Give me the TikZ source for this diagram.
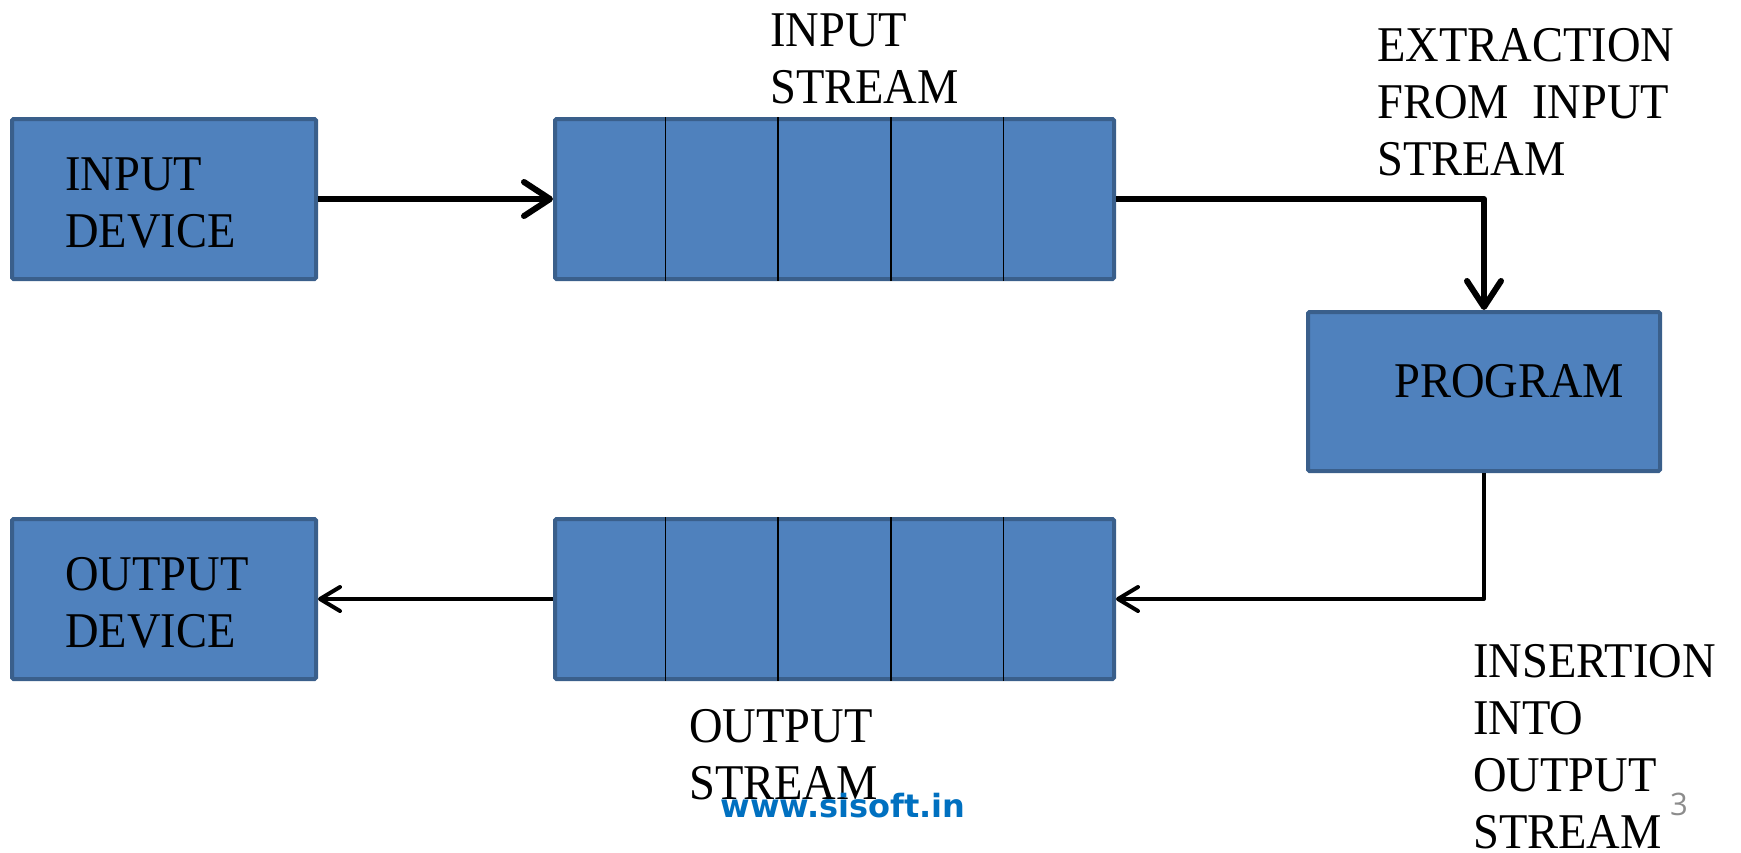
\documentclass[tikz,border=0pt]{standalone}
\usepackage{fontspec}
\setmainfont{Liberation Serif}[FakeStretch=0.93]
\newfontfamily\webfont{DejaVu Sans}
\newfontfamily\numfont{Open Sans}
\usetikzlibrary{arrows.meta,calc}
\definecolor{boxfill}{HTML}{4F81BD}
\definecolor{boxline}{HTML}{3A5F8B}
\definecolor{weblue}{HTML}{0070C0}
\definecolor{numgray}{HTML}{8C8C8C}
\begin{document}
\begin{tikzpicture}[x=1pt,y=-1pt,
  blockbox/.style={draw=boxline,fill=boxfill,line width=4pt,rounded corners=1.5pt,inner sep=0pt},
  cellline/.style={black,line width=1.6pt},
  lbl/.style={font=\fontsize{50}{57}\selectfont,align=left,inner sep=0pt,anchor=base west},
  thickarrow/.style={line width=6pt,-{Straight Barb[length=26pt,width=34pt,line cap=round,line join=round]}},
  thinarrow/.style={line width=4pt,-{Straight Barb[length=20pt,width=24pt,line cap=round,line join=round]}}]
\useasboundingbox (0,0) rectangle (1741,852);
% boxes
\node[blockbox,minimum width=304pt,minimum height=160pt] (indev) at (164,199) {};
\node[blockbox,minimum width=559pt,minimum height=160pt] (instream) at (834.5,199) {};
\node[blockbox,minimum width=352pt,minimum height=159pt] (program) at (1484,391.5) {};
\node[blockbox,minimum width=559pt,minimum height=160pt] (outstream) at (834.5,599) {};
\node[blockbox,minimum width=304pt,minimum height=160pt] (outdev) at (164,599) {};
% cell dividers
\foreach \f in {0.2,0.4,0.6,0.8}{
  \draw[cellline] ($(instream.north west)!\f!(instream.north east)$) -- ($(instream.south west)!\f!(instream.south east)$);
  \draw[cellline] ($(outstream.north west)!\f!(outstream.north east)$) -- ($(outstream.south west)!\f!(outstream.south east)$);
}
% texts (anchor = baseline of last line)
\node[lbl] (tindev) at (65,247) {INPUT\\DEVICE};
\node[lbl] (toutdev) at (65,647) {OUTPUT\\DEVICE};
\node[lbl] (tprog) at (1394,397) {PROGRAM};
\node[lbl] (tinstream) at (770,103) {INPUT\\STREAM};
\node[lbl] (textr) at (1377,175) {EXTRACTION\\FROM\ \ INPUT\\STREAM};
\node[lbl] (toutstream) at (689,799) {OUTPUT\\STREAM};
\node[lbl] (tins) at (1473,848) {INSERTION\\INTO\\OUTPUT\\STREAM};
\node[font=\webfont\bfseries\fontsize{32}{36}\selectfont,text=weblue,inner sep=0pt,anchor=base] (web) at (843,817) {www.sisoft.in};
\node[font=\numfont\fontsize{31}{34}\selectfont,text=numgray,inner sep=0pt,anchor=base west] (pnum) at (1670,815) {3};
% connectors
\coordinate (elbowA) at (program.north |- instream.east);
\coordinate (elbowB) at (program.south |- outstream.east);
\draw[thickarrow] (indev.east) -- (instream.west);
\draw[thickarrow,line join=round] (instream.east) -- (elbowA) -- (program.north);
\draw[thinarrow,line join=round] (program.south) -- (elbowB) -- (outstream.east);
\draw[thinarrow] (outstream.west) -- (outdev.east);
\end{tikzpicture}
\end{document}
